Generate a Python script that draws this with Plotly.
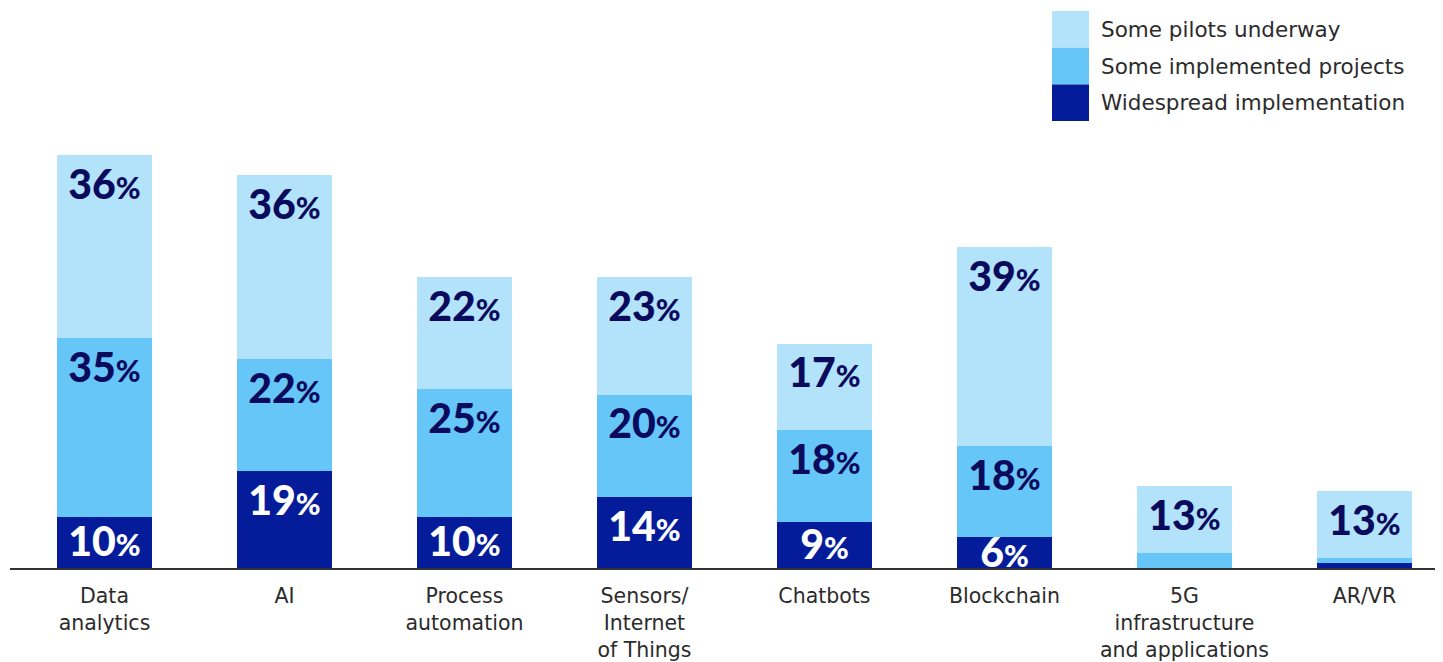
import plotly.graph_objects as go

categories = ["Data<br>analytics", "AI", "Process<br>automation", "Sensors/<br>Internet<br>of Things",
              "Chatbots", "Blockchain", "5G<br>infrastructure<br>and applications", "AR/VR"]
widespread = [10, 19, 10, 14, 9, 6, 0, 1]
implemented = [35, 22, 25, 20, 18, 18, 3, 1]
pilots = [36, 36, 22, 23, 17, 39, 13, 13]

series_names = ["Widespread implementation", "Some implemented projects", "Some pilots underway"]
series_vals = [widespread, implemented, pilots]
colors = ["#041c9a", "#66c6f8", "#b3e3fb"]
label_colors = ["#ffffff", "#0b0b5e", "#0b0b5e"]

NUM_FONT = "Lato"
TXT_FONT = "DejaVu Sans"

fig = go.Figure()
x = list(range(len(categories)))
for name, vals, col in zip(series_names, series_vals, colors):
    fig.add_trace(go.Bar(x=x, y=vals, name=name, marker=dict(color=col, line=dict(width=0)),
                         width=0.528, showlegend=False, hoverinfo="skip"))

# value labels
for si, vals in enumerate(series_vals):
    xs, ys, ts = [], [], []
    for i in range(len(categories)):
        bottom = sum(series_vals[k][i] for k in range(si))
        top = bottom + vals[i]
        if vals[i] < 5:
            continue
        ypos = max(top - 5.9, (top + bottom) / 2) - 0.7
        xs.append(i)
        ys.append(ypos)
        ts.append(f"{vals[i]}<span style='font-size:30px'>%</span>")
    fig.add_trace(go.Scatter(x=xs, y=ys, text=ts, mode="text", textposition="middle center",
                             textfont=dict(family=NUM_FONT, size=41, color=label_colors[si], weight=900),
                             showlegend=False, hoverinfo="skip", cliponaxis=False))

# custom legend (top right); plot area spans screen x 10..1440, y 10..568
legend_order = [2, 1, 0]
sw_x0, sw_w, sw_h, top_px = 1052, 37, 36.7, 11
PW, PH = 1430, 558
for j, si in enumerate(legend_order):
    y0 = top_px + j * sw_h
    fig.add_shape(type="rect", xref="paper", yref="paper",
                  x0=(sw_x0 - 10) / PW, x1=(sw_x0 + sw_w - 10) / PW,
                  y1=1 - (y0 - 10) / PH, y0=1 - (y0 + sw_h - 10) / PH,
                  fillcolor=colors[si], line=dict(width=0), layer="above")
    fig.add_annotation(xref="paper", yref="paper", x=(1099 - 10) / PW,
                       y=1 - (y0 + sw_h / 2 - 10) / PH, xanchor="left", yanchor="middle",
                       text=series_names[si], showarrow=False,
                       font=dict(family=TXT_FONT, size=21.5, color="#2b2b2b"))

fig.update_layout(
    width=1435, height=654, barmode="stack", bargap=0,
    margin=dict(l=2, r=3, t=2, b=94, autoexpand=False),
    plot_bgcolor="white", paper_bgcolor="white",
    xaxis=dict(tickmode="array", tickvals=x, ticktext=categories, range=[-0.525, 7.42],
               showgrid=False, zeroline=False, showline=True, linecolor="#333333", linewidth=1.5,
               ticks="", ticklabelstandoff=9, automargin=False,
               tickfont=dict(family=TXT_FONT, size=20.5, color="#2b2b2b")),
    yaxis=dict(range=[0, 109.4], visible=False, showgrid=False, zeroline=False, automargin=False),
)
fig.write_html("out.html")
